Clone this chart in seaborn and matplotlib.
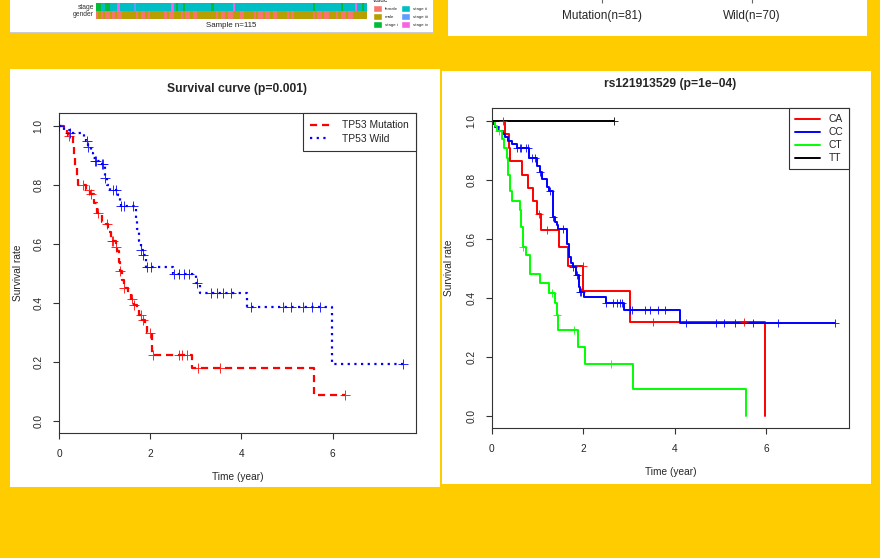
import matplotlib.pyplot as plt
import numpy as np
import pandas as pd
import seaborn as sns
from matplotlib.colors import ListedColormap
from matplotlib.patches import Patch, Rectangle

sns.set_style("white")
plt.rcParams["font.family"] = ["Liberation Sans", "DejaVu Sans"]

W, H = 880, 558

# top strip: clinical annotation per sample (1..4 = stage i..iv, F/M = gender)
stage_codes = ("1122112224" "2222223222" "2222222222" "2242122122" "2222222221"
               "2222222242" "2222222222" "2222222222" "2222222222" "2212222222"
               "2222122222" "42212")
gender_codes = ("FMFMFFMFMFFM" "MMMMM" "FMFFMF" "MMMMMM" "FMFF" "MMM" "FMFFMFF"
                "MMMMMMMM" "FMFFMFF" "MMM" "FF" "MMMM" "FMFFMFFMFF" "MMMM" "FMF"
                "MMMMMMMM" "FMFFMFF" "MMM" "FMFFMFF" "MMMMMM")
annot_labels = ["female", "male", "stage i", "stage ii", "stage iii", "stage iv"]
annot_colors = ["#F8766D", "#B79F00", "#00BA38", "#00BFC4", "#619CFF", "#F564E3"]

group_names = ["Mutation(n=81)", "Wild(n=70)"]

# TP53 survival curves (time in years)
mut_t = [0, 0.10, 0.17, 0.20, 0.30, 0.33, 0.36, 0.39, 0.42, 0.60, 0.68, 0.76, 0.84,
         0.95, 1.03, 1.08, 1.14, 1.24, 1.28, 1.31, 1.34, 1.38, 1.42, 1.52, 1.57,
         1.64, 1.72, 1.76, 1.83, 1.88, 1.92, 2.03, 2.91, 5.58, 6.27]
mut_s = [1.0, 0.989, 0.978, 0.966, 0.932, 0.898, 0.864, 0.830, 0.800, 0.782, 0.770,
         0.740, 0.705, 0.675, 0.667, 0.640, 0.611, 0.590, 0.577, 0.540, 0.509, 0.480,
         0.452, 0.430, 0.413, 0.395, 0.378, 0.362, 0.345, 0.322, 0.300, 0.226, 0.181,
         0.090, 0.090]
mut_cens_t = [0.23, 0.52, 0.66, 0.70, 0.86, 1.045, 1.17, 1.19, 1.25, 1.34, 1.43,
              1.61, 1.65, 1.79, 1.835, 1.99, 2.07, 2.62, 2.70, 2.80, 3.05, 3.53, 6.27]
mut_cens_s = [0.966, 0.800, 0.782, 0.770, 0.705, 0.667, 0.611, 0.611, 0.590, 0.509,
              0.452, 0.413, 0.395, 0.362, 0.345, 0.300, 0.226, 0.226, 0.226, 0.226,
              0.181, 0.181, 0.090]

wild_t = [0, 0.12, 0.24, 0.55, 0.60, 0.64, 0.70, 0.74, 0.79, 0.92, 1.0, 1.01, 1.06,
          1.12, 1.30, 1.33, 1.36, 1.68, 1.72, 1.76, 1.79, 1.84, 1.90, 2.51, 3.00,
          3.09, 4.12, 5.98, 7.54]
wild_s = [1.0, 0.985, 0.977, 0.955, 0.949, 0.930, 0.910, 0.893, 0.880, 0.870, 0.848,
          0.825, 0.800, 0.785, 0.765, 0.746, 0.729, 0.690, 0.650, 0.610, 0.582, 0.565,
          0.523, 0.500, 0.469, 0.435, 0.386, 0.195, 0.195]
wild_cens_t = [0.0, 0.24, 0.61, 0.64, 0.79, 0.82, 0.94, 0.97, 1.01, 1.19, 1.26, 1.37,
               1.42, 1.63, 1.80, 1.85, 1.92, 2.01, 2.53, 2.64, 2.74, 2.85, 3.03, 3.33,
               3.46, 3.60, 3.77, 4.22, 4.92, 5.09, 5.34, 5.54, 5.72, 7.54]
wild_cens_s = [1.0, 0.977, 0.949, 0.930, 0.880, 0.880, 0.870, 0.870, 0.825, 0.785,
               0.785, 0.729, 0.729, 0.729, 0.582, 0.565, 0.523, 0.523, 0.500, 0.500,
               0.500, 0.500, 0.469, 0.435, 0.435, 0.435, 0.435, 0.386, 0.386, 0.386,
               0.386, 0.386, 0.386, 0.195]

# rs121913529 genotype curves
ca_t = [0, 0.30, 0.38, 0.40, 0.655, 0.80, 0.91, 1.0, 1.07, 1.48, 1.67, 2.0, 3.02, 5.98]
ca_s = [1.0, 0.955, 0.91, 0.865, 0.818, 0.773, 0.728, 0.683, 0.632, 0.573, 0.508,
        0.425, 0.32, 0.0]
ca_cens_t = [0.25, 1.03, 1.20, 2.0, 3.53, 5.52]
ca_cens_s = [1.0, 0.683, 0.632, 0.508, 0.32, 0.32]

cc_t = [0, 0.02, 0.07, 0.15, 0.25, 0.30, 0.36, 0.45, 0.55, 0.82, 1.0, 1.05, 1.10, 1.20,
        1.25, 1.33, 1.345, 1.38, 1.42, 1.45, 1.65, 1.69, 1.74, 1.78, 1.85, 1.90, 1.93,
        2.02, 2.49, 2.90, 4.11, 7.51]
cc_s = [1.0, 0.99, 0.98, 0.966, 0.955, 0.944, 0.932, 0.921, 0.908, 0.876, 0.848, 0.826,
        0.803, 0.775, 0.764, 0.719, 0.674, 0.657, 0.646, 0.635, 0.584, 0.539, 0.517,
        0.506, 0.478, 0.438, 0.421, 0.404, 0.384, 0.36, 0.315, 0.315]
cc_cens_t = [0.55, 0.62, 0.65, 0.76, 0.80, 0.88, 0.95, 1.05, 1.27, 1.345, 1.57, 1.78,
             1.86, 1.93, 1.96, 2.51, 2.66, 2.73, 2.80, 2.84, 3.02, 3.06, 3.35, 3.47,
             3.64, 3.80, 4.24, 4.91, 5.08, 5.31, 5.71, 6.26, 7.51]
cc_cens_s = [0.908, 0.908, 0.908, 0.908, 0.908, 0.876, 0.876, 0.826, 0.764, 0.674,
             0.635, 0.506, 0.478, 0.421, 0.421, 0.384, 0.384, 0.384, 0.384, 0.384,
             0.36, 0.36, 0.36, 0.36, 0.36, 0.36, 0.315, 0.315, 0.315, 0.315, 0.315,
             0.315, 0.315]

ct_t = [0, 0.07, 0.12, 0.22, 0.26, 0.33, 0.36, 0.40, 0.44, 0.62, 0.65, 0.69, 0.75,
        0.84, 1.05, 1.26, 1.38, 1.42, 1.455, 1.88, 2.04, 3.09, 5.57]
ct_s = [1.0, 0.983, 0.966, 0.938, 0.908, 0.876, 0.818, 0.764, 0.728, 0.697, 0.641,
        0.573, 0.545, 0.481, 0.449, 0.418, 0.382, 0.343, 0.292, 0.234, 0.176, 0.090, 0.0]
ct_cens_t = [0.16, 0.69, 1.31, 1.42, 1.80, 2.60]
ct_cens_s = [0.966, 0.573, 0.418, 0.343, 0.292, 0.176]

tt_t = [0, 2.67]
tt_s = [1.0, 1.0]
tt_cens_t = [2.67]
tt_cens_s = [1.0]


def rect(x0, y0, x1, y1):
    return [x0 / W, 1 - y1 / H, (x1 - x0) / W, (y1 - y0) / H]


def km(ax, t, s, ct, cs, color, label, dashes=None, lw=1.6, ms=45):
    df = pd.DataFrame({"time": t, "surv": s})
    sns.lineplot(data=df, x="time", y="surv", ax=ax, color=color, linewidth=lw,
                 drawstyle="steps-post", estimator=None, sort=False, label=label)
    if dashes is not None:
        ax.lines[-1].set_dashes(dashes)
    sns.scatterplot(x=ct, y=cs, ax=ax, marker="+", color=color, s=ms,
                    linewidth=0.7, alpha=0.85, legend=False, zorder=3)


def style_axes(ax):
    ax.set_xlim(0, 7.82)
    ax.set_ylim(-0.04, 1.043)
    ax.set_xticks([0, 2, 4, 6])
    ax.set_yticks([0, 0.2, 0.4, 0.6, 0.8, 1.0])
    ax.set_yticklabels(["0.0", "0.2", "0.4", "0.6", "0.8", "1.0"], rotation=90, va="center")
    ax.set_xlabel("")
    ax.set_ylabel("")
    ax.tick_params(direction="out", length=4, width=0.8, color="#333333",
                   labelsize=7.3, bottom=True, left=True)
    ax.tick_params(axis="x", pad=7.5)
    ax.tick_params(axis="y", pad=7.0)
    for sp in ax.spines.values():
        sp.set_color("#333333")
        sp.set_linewidth(0.8)


fig = plt.figure(figsize=(8.8, 5.58), dpi=100, facecolor="#FFCC00")

# white panels
for x0, y0, x1, y1 in [(10, -5, 433, 32), (448, -5, 867, 36), (10, 69, 440, 487),
                       (442, 71, 871, 484)]:
    fig.add_artist(Rectangle((x0 / W, 1 - y1 / H), (x1 - x0) / W, (y1 - y0) / H,
                             transform=fig.transFigure, facecolor="white",
                             edgecolor="none", zorder=-10))
fig.add_artist(Rectangle((10 / W, 1 - 32.5 / H), 423 / W, 1 / H, transform=fig.transFigure,
                         facecolor="#CCCCCC", edgecolor="none", zorder=-9))

# annotation strip
mat = np.array([[int(c) + 1 for c in stage_codes],
                [0 if c == "F" else 1 for c in gender_codes]])
hax = fig.add_axes(rect(96, 3.3, 366.7, 18.7))
sns.heatmap(mat, ax=hax, cmap=ListedColormap(annot_colors), vmin=-0.5, vmax=5.5,
            cbar=False, xticklabels=False, yticklabels=["stage", "gender"])
hax.tick_params(axis="y", labelsize=4.9, length=0, pad=1.5, labelcolor="#333333", rotation=0)
hax.set_xlabel("Sample n=115", fontsize=5.7, labelpad=2.5, color="#222222")

leg = fig.legend(handles=[Patch(facecolor=c) for c in annot_colors], labels=annot_labels,
                 ncol=2, title="value", loc="upper left", bbox_to_anchor=(371 / W, 1 + 5 / H),
                 frameon=False, fontsize=3.2, title_fontsize=4.7, handlelength=2.0,
                 handleheight=2.0, labelspacing=0.23, handletextpad=0.7,
                 columnspacing=0.6, borderpad=0, alignment="left")

# top right: cut-off group axis
gax = fig.add_axes(rect(448, -40, 867, -2))
gax.set_xlim(-1.026, 1.767)
gax.set_xticks([0, 1])
gax.set_xticklabels(group_names)
gax.set_yticks([])
gax.tick_params(axis="x", bottom=True, length=3.6, width=0.8, color="#666666",
                labelsize=8.5, pad=5)
for sp in gax.spines.values():
    sp.set_visible(False)
gax.patch.set_alpha(0)

# left: TP53 survival
ax1 = fig.add_axes(rect(59, 113.3, 415.7, 433.3))
km(ax1, mut_t, mut_s, mut_cens_t, mut_cens_s, "#FF0000", "TP53 Mutation", dashes=(3.2, 2.2))
km(ax1, wild_t, wild_s, wild_cens_t, wild_cens_s, "#0000FF", "TP53 Wild", dashes=(1.0, 2.0))
style_axes(ax1)
leg1 = ax1.legend(loc="upper right", bbox_to_anchor=(1, 1), borderaxespad=0, fancybox=False,
                  framealpha=1, edgecolor="#333333", fontsize=7.4, handlelength=2.0,
                  handletextpad=1.1, borderpad=0.7, labelspacing=0.3)
leg1.get_frame().set_linewidth(0.8)

# right: genotype survival
ax2 = fig.add_axes(rect(491.7, 108.3, 849.3, 427.7))
km(ax2, ca_t, ca_s, ca_cens_t, ca_cens_s, "#FF0000", "CA", lw=1.4, ms=32)
km(ax2, cc_t, cc_s, cc_cens_t, cc_cens_s, "#0000FF", "CC", lw=1.4, ms=32)
km(ax2, ct_t, ct_s, ct_cens_t, ct_cens_s, "#00FF00", "CT", lw=1.4, ms=32)
km(ax2, tt_t, tt_s, tt_cens_t, tt_cens_s, "#000000", "TT", lw=1.4, ms=32)
style_axes(ax2)
leg2 = ax2.legend(loc="upper right", bbox_to_anchor=(1, 1), borderaxespad=0, fancybox=False,
                  framealpha=1, edgecolor="#333333", fontsize=7.4, handlelength=2.4,
                  handletextpad=0.8, borderpad=0.6, labelspacing=0.28)
leg2.get_frame().set_linewidth(0.8)

# titles and axis labels
fig.text(237.3 / W, 1 - 89 / H, "Survival curve (p=0.001)", ha="center", va="center",
         fontsize=8.7, fontweight="bold")
fig.text(670.5 / W, 1 - 84 / H, "rs121913529 (p=1e\u221204)", ha="center", va="center",
         fontsize=8.7, fontweight="bold")
fig.text(237.3 / W, 1 - 477 / H, "Time (year)", ha="center", va="center", fontsize=7.3)
fig.text(670.5 / W, 1 - 472 / H, "Time (year)", ha="center", va="center", fontsize=7.3)
fig.text(18 / W, 1 - 273 / H, "Survival rate", ha="center", va="center", rotation=90,
         fontsize=7.3)
fig.text(449 / W, 1 - 268 / H, "Survival rate", ha="center", va="center", rotation=90,
         fontsize=7.3)

fig.savefig("out.png", dpi=100, facecolor=fig.get_facecolor())
